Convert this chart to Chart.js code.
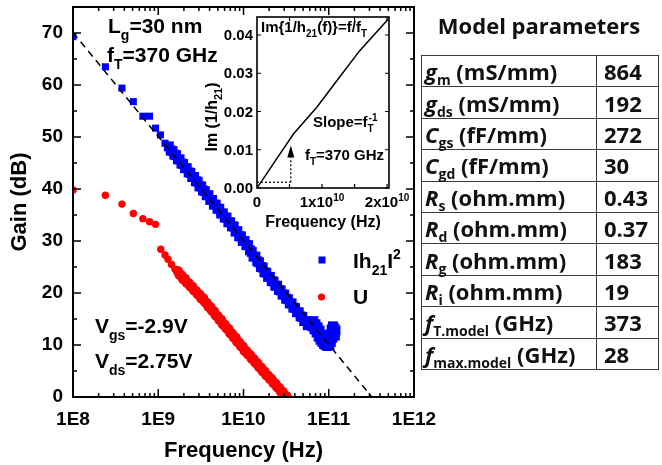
<!DOCTYPE html>
<html><head><meta charset="utf-8">
<script src="https://cdn.jsdelivr.net/npm/chart.js@4.4.0/dist/chart.umd.min.js"></script>
<style>
html,body{margin:0;padding:0;background:#fff;}
#wrap{position:relative;width:662px;height:465px;overflow:hidden;background:#fff;}
#main{position:absolute;left:0;top:0;}
#inset{position:absolute;left:195px;top:5px;}
#ttl{position:absolute;left:421px;width:236px;top:10px;text-align:center;font:bold 22px "Open Sans";line-height:30px;color:#111;}
#tbl{position:absolute;left:421px;top:55px;border-collapse:collapse;table-layout:fixed;width:237px;}
#tbl td{border:1.5px solid #3c3c3c;height:31.4px;box-sizing:border-box;padding:0;font:bold 22px "Open Sans";color:#111;white-space:nowrap;line-height:1;vertical-align:middle;overflow:visible;}
#tbl td.k{width:175px;padding-left:3px;}
#tbl td.v{width:62px;padding-left:7px;}
#tbl sub{font-size:14px;vertical-align:-5px;line-height:0;}
</style></head>
<body><div id="wrap">
<canvas id="main" width="440" height="465"></canvas>
<canvas id="inset" width="215" height="235"></canvas>
<div id="ttl">Model parameters</div>
<table id="tbl"></table>
</div>
<script>
// ---------- data (frequencies in GHz, gains in dB) ----------
const freqH21GHz = [0.1,0.24,0.375,0.51,0.66,0.79,0.93,1.06,1.2,
  1.33,1.40,1.47,1.54,1.62,1.70,1.78,1.87,1.96,2.06,
  2.16,2.27,2.38,2.50,2.63,2.76,2.90,3.04,3.19,3.35,
  3.52,3.70,3.88,4.07,4.28,4.49,4.72,4.95,5.20,5.46,
  5.73,6.02,6.32,6.64,6.97,7.32,7.68,8.07,8.47,8.89,
  9.34,9.80,10.3,10.8,11.3,11.9,12.5,13.1,13.8,14.5,
  15.2,16.0,16.8,17.6,18.5,19.4,20.4,21.4,22.5,23.6,
  24.8,26.0,27.3,28.7,30.1,31.6,33.2,34.9,36.6,38.4,
  40.3,42.4,44.5,46.7,49.0,51.5,54.0,56.7,59.6,
  62,64,66,68,70,72,74,76,78,80,82,84,86,88,90,92,94,96,98,100,102,104,106,108,110,112,114,116,118,120];
const gainH21 = [69.3,63.5,59.4,56.8,54.0,54.0,51.7,50.4,48.8,
  48.2,47.4,47.3,46.6,46.5,45.7,45.7,44.9,44.8,44.0,
  44.0,43.2,43.1,42.3,42.3,41.5,41.4,40.5,40.5,39.7,
  39.6,38.8,38.8,37.9,37.9,37.0,37.0,36.2,36.2,35.3,
  35.3,34.5,34.5,33.6,33.6,32.8,32.8,31.8,31.9,30.9,
  30.9,30.0,30.0,29.2,29.2,28.2,27.9,27.0,27.0,26.1,
  25.9,25.0,24.9,24.0,23.9,23.1,23.1,22.3,22.2,21.4,
  21.4,20.6,20.5,19.7,19.7,18.9,18.8,18.0,18.0,17.2,
  17.1,16.3,16.3,15.5,15.4,14.6,14.6,13.8,14.0,
  14.4,13.6,14.6,13.0,14.0,12.4,13.4,11.6,12.8,11.0,12.0,10.6,11.4,10.2,11.0,10.0,10.6,9.8,10.2,11.2,10.0,12.0,10.6,13.0,11.4,13.6,12.2,13.2,11.8,12.8];
const freqUGHz = [0.1,0.24,0.375,0.51,0.66,0.79,0.93,1.07,1.2,1.3,1.43,1.57,
  1.70,1.78,1.87,1.96,2.06,2.16,2.27,2.38,2.50,2.63,
  2.76,2.90,3.04,3.19,3.35,3.52,3.70,3.88,4.07,4.28,
  4.49,4.72,4.95,5.20,5.46,5.73,6.02,6.32,6.64,6.97,
  7.32,7.68,8.07,8.47,8.89,9.34,9.80,10.3,10.8,11.3,
  11.9,12.5,13.1,13.8,14.5,15.2,16.0,16.8,17.6,18.5,
  19.4,20.4,21.4,22.5,23.6,24.8,26.0,27.3,28.7,30.1,
  31.6,33.2,34.9];
const gainU = [39.8,38.8,37.1,35.3,34.3,33.7,33.2,28.4,27.3,26.5,25.5,24.6,
  24.2,23.5,23.4,22.7,22.7,22.0,21.9,21.3,21.2,20.5,
  20.4,19.8,19.7,19.0,19.0,18.3,18.1,17.4,17.3,16.6,
  16.5,15.7,15.6,14.9,14.8,14.0,13.9,13.2,13.1,12.3,
  12.2,11.5,11.4,10.6,10.5,9.8,9.7,8.9,8.8,8.2,
  8.1,7.4,7.3,6.6,6.5,5.8,5.7,5.0,4.9,4.2,
  4.1,3.5,3.4,2.7,2.6,1.9,1.8,1.1,1.0,0.4,
  0.2,-0.4,-0.6];
const fitFreqHz = [1e8, 3.2e11];
const fitGain = [70.1, 0];
const xTickExps = [8,9,10,11,12];
const yTickValues = [0,10,20,30,40,50,60,70];

// inset data
const insetFreqHz = [0, 2.5e9, 5.6e9, 9.2e9, 1.23e10, 1.58e10, 2.02e10];
const insetImInv = [0, 0.0063, 0.0141, 0.0211, 0.0281, 0.0359, 0.0442];
const insetYTicks = [0, 0.01, 0.02, 0.03, 0.04];
const insetXTicks = [0, 1e10, 2e10];
const markFreqHz = 5.2e9;
const markLevels = [0.0015, 0.008, 0.0111];

// table data
const paramSym = ['g','g','C','C','R','R','R','R','f','f'];
const paramSub = ['m','ds','gs','gd','s','d','g','i','T.model','max.model'];
const paramUnit = ['(mS/mm)','(mS/mm)','(fF/mm)','(fF/mm)','(ohm.mm)','(ohm.mm)','(ohm.mm)','(ohm.mm)','(GHz)','(GHz)'];
const paramVal = ['864','192','272','30','0.43','0.37','183','19','373','28'];

// ---------- table ----------
const tbl = document.getElementById('tbl');
tbl.innerHTML = paramSym.map((s,i)=>`<tr><td class="k"><i>${s}</i><sub>${paramSub[i]}</sub> ${paramUnit[i]}</td><td class="v">${paramVal[i]}</td></tr>`).join('');

// ---------- helpers ----------
const FF = '"Liberation Sans", Arial, sans-serif';
function rich(ctx, x, y, segs, size, weight) {
  let cx = x;
  for (const [t, k] of segs) {
    const s = k ? Math.round(size * 0.68) : size;
    ctx.font = `${weight} ${s}px ${FF}`;
    const dy = k === 1 ? size * 0.33 : (k === 2 ? -size * 0.42 : 0);
    ctx.fillText(t, cx, y + dy);
    cx += ctx.measureText(t).width;
  }
  return cx;
}
function richWidth(ctx, segs, size, weight) {
  let w = 0;
  for (const [t, k] of segs) {
    const s = k ? Math.round(size * 0.68) : size;
    ctx.font = `${weight} ${s}px ${FF}`;
    w += ctx.measureText(t).width;
  }
  return w;
}

// ---------- main chart ----------
const mainDeco = {
  id: 'mainDeco',
  afterDatasetsDraw(chart) {
    const {ctx, chartArea: a, scales: {x, y}} = chart;
    ctx.save();
    ctx.strokeStyle = '#000';
    ctx.lineWidth = 1.5;
    ctx.beginPath();
    for (const e of xTickExps) {
      for (let k = 1; k <= 9; k++) {
        const v = k * Math.pow(10, e);
        if (v > x.max * 1.0001) break;
        const px = x.getPixelForValue(v);
        const len = k === 1 ? 8 : 4;
        ctx.moveTo(px, a.bottom); ctx.lineTo(px, a.bottom - len);
        ctx.moveTo(px, a.top); ctx.lineTo(px, a.top + len);
      }
    }
    for (let v = 5; v < 75; v += 5) {
      const py = y.getPixelForValue(v);
      const len = v % 10 === 0 ? 8 : 4;
      ctx.moveTo(a.left, py); ctx.lineTo(a.left + len, py);
      ctx.moveTo(a.right, py); ctx.lineTo(a.right - len, py);
    }
    ctx.stroke();
    ctx.lineWidth = 2;
    ctx.strokeRect(a.left, a.top, a.right - a.left, a.bottom - a.top);
    ctx.restore();
  },
  afterDraw(chart) {
    const ctx = chart.ctx;
    ctx.save();
    ctx.fillStyle = '#000';
    ctx.textBaseline = 'alphabetic';
    ctx.textAlign = 'left';
    rich(ctx, 108, 33, [['L',0],['g',1],['=30 nm',0]], 21, 'bold');
    rich(ctx, 107, 62, [['f',0],['T',1],['=370 GHz',0]], 21, 'bold');
    rich(ctx, 95, 333, [['V',0],['gs',1],['=-2.9V',0]], 21, 'bold');
    rich(ctx, 95, 368, [['V',0],['ds',1],['=2.75V',0]], 21, 'bold');
    // legend
    ctx.fillStyle = '#0000ff';
    ctx.fillRect(318.5, 256.5, 7, 7);
    ctx.fillStyle = '#ff0000';
    ctx.beginPath(); ctx.arc(321.5, 297, 3.6, 0, Math.PI * 2); ctx.fill();
    ctx.fillStyle = '#000';
    rich(ctx, 353, 268, [['Ih',0],['21',1],['I',0],['2',2]], 21, 'bold');
    rich(ctx, 353, 304, [['U',0]], 21, 'bold');
    ctx.restore();
  }
};

const tickFont = {family: FF, size: 19, weight: 'bold'};
const titleFont = {family: FF, size: 22, weight: 'bold'};

new Chart(document.getElementById('main'), {
  type: 'scatter',
  data: {
    datasets: [
      {
        label: 'fit',
        data: fitFreqHz.map((f, i) => ({x: f, y: fitGain[i]})),
        showLine: true, borderColor: '#000', borderWidth: 1.5, borderDash: [7, 5],
        pointRadius: 0, fill: false
      },
      {
        label: '|h21|^2',
        data: freqH21GHz.map((f, i) => ({x: f * 1e9, y: gainH21[i]})),
        pointStyle: 'rect', pointRadius: c => (c.dataIndex < 9 ? 5 : 7), pointBorderWidth: 0,
        backgroundColor: '#0000ff', borderColor: '#0000ff'
      },
      {
        label: 'U',
        data: freqUGHz.map((f, i) => ({x: f * 1e9, y: gainU[i]})),
        pointStyle: 'circle', pointRadius: c => (c.dataIndex < 12 ? 3.7 : 5.2), pointBorderWidth: 0,
        backgroundColor: '#ff0000', borderColor: '#ff0000'
      }
    ]
  },
  options: {
    responsive: false, animation: false, devicePixelRatio: 1,
    layout: {padding: {left: 0, right: 26, top: 5, bottom: 0}},
    plugins: {legend: {display: false}, tooltip: {enabled: false}},
    scales: {
      x: {
        type: 'logarithmic', min: 1e8, max: 1e12, position: 'bottom',
        grid: {display: false, drawTicks: false}, border: {display: false},
        afterBuildTicks: s => { s.ticks = xTickExps.map(e => ({value: Math.pow(10, e)})); },
        afterFit: s => { s.height = 68; s.paddingLeft = 0; s.paddingRight = 0; },
        ticks: {
          autoSkip: false, maxRotation: 0, padding: 11, color: '#000', font: tickFont,
          callback: v => '1E' + Math.round(Math.log10(v))
        },
        title: {display: true, text: 'Frequency (Hz)', color: '#000', font: titleFont, padding: {top: 0, bottom: 1}}
      },
      y: {
        type: 'linear', min: 0, max: 75, position: 'left',
        grid: {display: false, drawTicks: false}, border: {display: false},
        afterBuildTicks: s => { s.ticks = yTickValues.map(v => ({value: v})); },
        afterFit: s => { s.width = 73; s.paddingTop = 0; s.paddingBottom = 0; },
        ticks: {padding: 10, color: '#000', font: tickFont},
        title: {display: true, text: 'Gain (dB)', color: '#000', font: titleFont, padding: {top: 7, bottom: 0}}
      }
    }
  },
  plugins: [mainDeco]
});

// ---------- inset chart ----------
const IF = 15;
const insetDeco = {
  id: 'insetDeco',
  afterDatasetsDraw(chart) {
    const {ctx, chartArea: a, scales: {x, y}} = chart;
    ctx.save();
    ctx.strokeStyle = '#000';
    ctx.fillStyle = '#000';
    const ax = x.getPixelForValue(markFreqHz);
    const tipY = y.getPixelForValue(markLevels[2]);
    const baseY = y.getPixelForValue(markLevels[1]);
    ctx.beginPath();
    ctx.moveTo(ax, tipY); ctx.lineTo(ax - 3.5, baseY); ctx.lineTo(ax + 3.5, baseY); ctx.closePath();
    ctx.fill();
    ctx.lineWidth = 1.2;
    ctx.beginPath();
    for (let v = 5e9; v <= 2e10; v += 5e9) {
      const px = x.getPixelForValue(v);
      ctx.moveTo(px, a.bottom); ctx.lineTo(px, a.bottom - 4);
      ctx.moveTo(px, a.top); ctx.lineTo(px, a.top + 4);
    }
    for (const v of insetYTicks) {
      const py = y.getPixelForValue(v);
      ctx.moveTo(a.left, py); ctx.lineTo(a.left + 4, py);
      ctx.moveTo(a.right, py); ctx.lineTo(a.right - 4, py);
    }
    ctx.stroke();
    ctx.lineWidth = 1.6;
    ctx.strokeRect(a.left, a.top, a.right - a.left, a.bottom - a.top);
    ctx.font = `bold ${IF}px ${FF}`;
    ctx.textAlign = 'right'; ctx.textBaseline = 'middle';
    for (const v of insetYTicks) ctx.fillText(v.toFixed(2), a.left - 4, y.getPixelForValue(v) + 1);
    ctx.textBaseline = 'alphabetic'; ctx.textAlign = 'left';
    for (const v of insetXTicks) {
      const px = x.getPixelForValue(v);
      let segs;
      if (v === 0) segs = [['0',0]];
      else segs = [[(v / 1e10).toFixed(0) + 'x10',0],['10',2]];
      const w = richWidth(ctx, segs, IF, 'bold');
      rich(ctx, px - w / 2, a.bottom + 19, segs, IF, 'bold');
    }
    ctx.font = `bold ${IF + 1}px ${FF}`;
    ctx.textAlign = 'center';
    ctx.fillText('Frequency (Hz)', (a.left + a.right) / 2, a.bottom + 39);
    ctx.save();
    ctx.translate(22, 112);
    ctx.rotate(-Math.PI / 2);
    ctx.textAlign = 'left';
    const ys = [['Im (1/h',0],['21',1],[')',0]];
    const yw = richWidth(ctx, ys, IF + 1, 'bold');
    rich(ctx, -yw / 2, 0, ys, IF + 1, 'bold');
    ctx.restore();
    ctx.translate(-195, -5);
    ctx.textAlign = 'left';
    rich(ctx, 261, 32, [['Im{1/h',0],['21',1],['(f)}=f/f',0],['T',1]], IF, 'bold');
    let cx = rich(ctx, 313, 127, [['Slope=f',0]], IF, 'bold');
    rich(ctx, cx, 127, [['T',1]], IF, 'bold');
    rich(ctx, cx + 1, 127, [['-1',2]], IF, 'bold');
    rich(ctx, 305, 160, [['f',0],['T',1],['=370 GHz',0]], IF, 'bold');
    ctx.restore();
  }
};

new Chart(document.getElementById('inset'), {
  type: 'scatter',
  data: {
    datasets: [
      {
        label: 'Im(1/h21)',
        data: insetFreqHz.map((f, i) => ({x: f, y: insetImInv[i]})),
        showLine: true, borderColor: '#000', borderWidth: 1.5, pointRadius: 0, fill: false
      },
      {
        label: 'hmark',
        data: [{x: 0, y: markLevels[0]}, {x: markFreqHz, y: markLevels[0]}],
        showLine: true, borderColor: '#000', borderWidth: 1.2, borderDash: [2, 2], pointRadius: 0
      },
      {
        label: 'vmark',
        data: [{x: markFreqHz, y: markLevels[0]}, {x: markFreqHz, y: markLevels[1]}],
        showLine: true, borderColor: '#000', borderWidth: 1.2, borderDash: [2, 2], pointRadius: 0
      }
    ]
  },
  options: {
    responsive: false, animation: false, devicePixelRatio: 1,
    layout: {padding: {left: 0, right: 21, top: 12, bottom: 0}},
    plugins: {legend: {display: false}, tooltip: {enabled: false}},
    scales: {
      x: {
        type: 'linear', min: 0, max: 2.03e10,
        grid: {display: false, drawTicks: false}, border: {display: false},
        ticks: {display: false},
        afterFit: s => { s.height = 52; s.paddingLeft = 0; s.paddingRight = 0; }
      },
      y: {
        type: 'linear', min: 0, max: 0.0447,
        grid: {display: false, drawTicks: false}, border: {display: false},
        ticks: {display: false},
        afterFit: s => { s.width = 62; s.paddingTop = 0; s.paddingBottom = 0; }
      }
    }
  },
  plugins: [insetDeco]
});
</script>
</body></html>
